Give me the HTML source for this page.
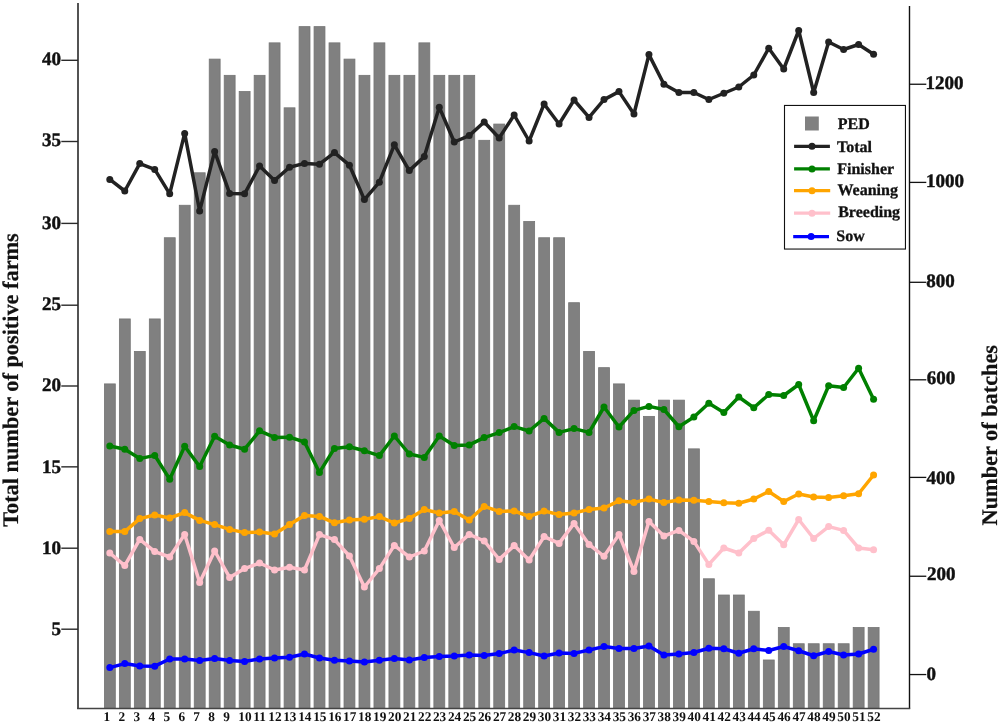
<!DOCTYPE html>
<html><head><meta charset="utf-8"><style>
html,body{margin:0;padding:0;background:#fff;}
svg{display:block;will-change:transform;}
text{font-family:"Liberation Serif",serif;font-weight:bold;fill:#111;stroke:#111;stroke-width:0.45px;text-rendering:geometricPrecision;}
.tk{font-size:19px;}
.xl{font-size:13.3px;stroke-width:0;}
.tt{font-size:22.3px;stroke-width:0.2px;}
.lg{font-size:16px;stroke-width:0.3px;}
</style></head><body>
<svg width="1000" height="724" viewBox="0 0 1000 724">
<rect width="1000" height="724" fill="#fff"/>
<g fill="#808080" stroke="#747474" stroke-width="0.8"><rect x="104.40" y="383.90" width="10.90" height="324.40"/><rect x="119.38" y="318.94" width="10.90" height="389.36"/><rect x="134.35" y="351.42" width="10.90" height="356.88"/><rect x="149.33" y="318.94" width="10.90" height="389.36"/><rect x="164.30" y="237.74" width="10.90" height="470.56"/><rect x="179.28" y="205.26" width="10.90" height="503.04"/><rect x="194.26" y="172.78" width="10.90" height="535.52"/><rect x="209.23" y="59.10" width="10.90" height="649.20"/><rect x="224.21" y="75.34" width="10.90" height="632.96"/><rect x="239.18" y="91.58" width="10.90" height="616.72"/><rect x="254.16" y="75.34" width="10.90" height="632.96"/><rect x="269.14" y="42.86" width="10.90" height="665.44"/><rect x="284.11" y="107.82" width="10.90" height="600.48"/><rect x="299.09" y="26.62" width="10.90" height="681.68"/><rect x="314.06" y="26.62" width="10.90" height="681.68"/><rect x="329.04" y="42.86" width="10.90" height="665.44"/><rect x="344.02" y="59.10" width="10.90" height="649.20"/><rect x="358.99" y="75.34" width="10.90" height="632.96"/><rect x="373.97" y="42.86" width="10.90" height="665.44"/><rect x="388.94" y="75.34" width="10.90" height="632.96"/><rect x="403.92" y="75.34" width="10.90" height="632.96"/><rect x="418.90" y="42.86" width="10.90" height="665.44"/><rect x="433.87" y="75.34" width="10.90" height="632.96"/><rect x="448.85" y="75.34" width="10.90" height="632.96"/><rect x="463.82" y="75.34" width="10.90" height="632.96"/><rect x="478.80" y="140.30" width="10.90" height="568.00"/><rect x="493.78" y="124.06" width="10.90" height="584.24"/><rect x="508.75" y="205.26" width="10.90" height="503.04"/><rect x="523.73" y="221.50" width="10.90" height="486.80"/><rect x="538.70" y="237.74" width="10.90" height="470.56"/><rect x="553.68" y="237.74" width="10.90" height="470.56"/><rect x="568.66" y="302.70" width="10.90" height="405.60"/><rect x="583.63" y="351.42" width="10.90" height="356.88"/><rect x="598.61" y="367.66" width="10.90" height="340.64"/><rect x="613.58" y="383.90" width="10.90" height="324.40"/><rect x="628.56" y="400.14" width="10.90" height="308.16"/><rect x="643.54" y="416.38" width="10.90" height="291.92"/><rect x="658.51" y="400.14" width="10.90" height="308.16"/><rect x="673.49" y="400.14" width="10.90" height="308.16"/><rect x="688.46" y="448.86" width="10.90" height="259.44"/><rect x="703.44" y="578.78" width="10.90" height="129.52"/><rect x="718.42" y="595.02" width="10.90" height="113.28"/><rect x="733.39" y="595.02" width="10.90" height="113.28"/><rect x="748.37" y="611.26" width="10.90" height="97.04"/><rect x="763.34" y="659.98" width="10.90" height="48.32"/><rect x="778.32" y="627.50" width="10.90" height="80.80"/><rect x="793.30" y="643.74" width="10.90" height="64.56"/><rect x="808.27" y="643.74" width="10.90" height="64.56"/><rect x="823.25" y="643.74" width="10.90" height="64.56"/><rect x="838.22" y="643.74" width="10.90" height="64.56"/><rect x="853.20" y="627.50" width="10.90" height="80.80"/><rect x="868.18" y="627.50" width="10.90" height="80.80"/></g>
<polyline points="109.80,667.60 124.78,663.60 139.75,666.00 154.73,666.20 169.70,659.00 184.68,659.00 199.66,660.60 214.63,658.40 229.61,660.60 244.58,661.40 259.56,659.00 274.54,658.00 289.51,657.20 304.49,654.00 319.46,658.00 334.44,660.20 349.42,661.00 364.39,662.00 379.37,660.20 394.34,658.60 409.32,660.00 424.30,657.60 439.27,656.60 454.25,656.00 469.22,655.00 484.20,655.60 499.18,653.60 514.15,650.00 529.13,652.60 544.10,656.00 559.08,653.00 574.06,653.40 589.03,650.00 604.01,646.60 618.98,648.60 633.96,648.40 648.94,646.00 663.91,655.00 678.89,654.00 693.86,652.50 708.84,648.25 723.82,648.75 738.79,653.25 753.77,648.75 768.74,650.50 783.72,646.50 798.70,650.75 813.67,655.75 828.65,651.50 843.62,655.00 858.60,654.00 873.58,649.25" fill="none" stroke="#0000ff" stroke-width="3.5" stroke-linejoin="round" stroke-linecap="round"/><g fill="#0000ff"><circle cx="109.80" cy="667.60" r="3.5"/><circle cx="124.78" cy="663.60" r="3.5"/><circle cx="139.75" cy="666.00" r="3.5"/><circle cx="154.73" cy="666.20" r="3.5"/><circle cx="169.70" cy="659.00" r="3.5"/><circle cx="184.68" cy="659.00" r="3.5"/><circle cx="199.66" cy="660.60" r="3.5"/><circle cx="214.63" cy="658.40" r="3.5"/><circle cx="229.61" cy="660.60" r="3.5"/><circle cx="244.58" cy="661.40" r="3.5"/><circle cx="259.56" cy="659.00" r="3.5"/><circle cx="274.54" cy="658.00" r="3.5"/><circle cx="289.51" cy="657.20" r="3.5"/><circle cx="304.49" cy="654.00" r="3.5"/><circle cx="319.46" cy="658.00" r="3.5"/><circle cx="334.44" cy="660.20" r="3.5"/><circle cx="349.42" cy="661.00" r="3.5"/><circle cx="364.39" cy="662.00" r="3.5"/><circle cx="379.37" cy="660.20" r="3.5"/><circle cx="394.34" cy="658.60" r="3.5"/><circle cx="409.32" cy="660.00" r="3.5"/><circle cx="424.30" cy="657.60" r="3.5"/><circle cx="439.27" cy="656.60" r="3.5"/><circle cx="454.25" cy="656.00" r="3.5"/><circle cx="469.22" cy="655.00" r="3.5"/><circle cx="484.20" cy="655.60" r="3.5"/><circle cx="499.18" cy="653.60" r="3.5"/><circle cx="514.15" cy="650.00" r="3.5"/><circle cx="529.13" cy="652.60" r="3.5"/><circle cx="544.10" cy="656.00" r="3.5"/><circle cx="559.08" cy="653.00" r="3.5"/><circle cx="574.06" cy="653.40" r="3.5"/><circle cx="589.03" cy="650.00" r="3.5"/><circle cx="604.01" cy="646.60" r="3.5"/><circle cx="618.98" cy="648.60" r="3.5"/><circle cx="633.96" cy="648.40" r="3.5"/><circle cx="648.94" cy="646.00" r="3.5"/><circle cx="663.91" cy="655.00" r="3.5"/><circle cx="678.89" cy="654.00" r="3.5"/><circle cx="693.86" cy="652.50" r="3.5"/><circle cx="708.84" cy="648.25" r="3.5"/><circle cx="723.82" cy="648.75" r="3.5"/><circle cx="738.79" cy="653.25" r="3.5"/><circle cx="753.77" cy="648.75" r="3.5"/><circle cx="768.74" cy="650.50" r="3.5"/><circle cx="783.72" cy="646.50" r="3.5"/><circle cx="798.70" cy="650.75" r="3.5"/><circle cx="813.67" cy="655.75" r="3.5"/><circle cx="828.65" cy="651.50" r="3.5"/><circle cx="843.62" cy="655.00" r="3.5"/><circle cx="858.60" cy="654.00" r="3.5"/><circle cx="873.58" cy="649.25" r="3.5"/></g><polyline points="109.80,553.00 124.78,565.60 139.75,539.40 154.73,551.60 169.70,557.00 184.68,534.40 199.66,582.40 214.63,551.00 229.61,577.40 244.58,568.60 259.56,563.00 274.54,570.00 289.51,567.30 304.49,570.00 319.46,534.60 334.44,539.60 349.42,556.00 364.39,587.00 379.37,568.60 394.34,545.40 409.32,557.00 424.30,551.00 439.27,520.50 454.25,547.50 469.22,534.40 484.20,541.00 499.18,559.40 514.15,545.60 529.13,560.00 544.10,536.60 559.08,543.40 574.06,523.40 589.03,544.40 604.01,556.30 618.98,534.50 633.96,571.40 648.94,521.40 663.91,536.00 678.89,530.40 693.86,541.40 708.84,564.40 723.82,548.00 738.79,553.00 753.77,538.40 768.74,530.20 783.72,544.80 798.70,519.50 813.67,538.50 828.65,526.60 843.62,530.40 858.60,548.00 873.58,549.70" fill="none" stroke="#ffc0cb" stroke-width="3.5" stroke-linejoin="round" stroke-linecap="round"/><g fill="#ffc0cb"><circle cx="109.80" cy="553.00" r="3.5"/><circle cx="124.78" cy="565.60" r="3.5"/><circle cx="139.75" cy="539.40" r="3.5"/><circle cx="154.73" cy="551.60" r="3.5"/><circle cx="169.70" cy="557.00" r="3.5"/><circle cx="184.68" cy="534.40" r="3.5"/><circle cx="199.66" cy="582.40" r="3.5"/><circle cx="214.63" cy="551.00" r="3.5"/><circle cx="229.61" cy="577.40" r="3.5"/><circle cx="244.58" cy="568.60" r="3.5"/><circle cx="259.56" cy="563.00" r="3.5"/><circle cx="274.54" cy="570.00" r="3.5"/><circle cx="289.51" cy="567.30" r="3.5"/><circle cx="304.49" cy="570.00" r="3.5"/><circle cx="319.46" cy="534.60" r="3.5"/><circle cx="334.44" cy="539.60" r="3.5"/><circle cx="349.42" cy="556.00" r="3.5"/><circle cx="364.39" cy="587.00" r="3.5"/><circle cx="379.37" cy="568.60" r="3.5"/><circle cx="394.34" cy="545.40" r="3.5"/><circle cx="409.32" cy="557.00" r="3.5"/><circle cx="424.30" cy="551.00" r="3.5"/><circle cx="439.27" cy="520.50" r="3.5"/><circle cx="454.25" cy="547.50" r="3.5"/><circle cx="469.22" cy="534.40" r="3.5"/><circle cx="484.20" cy="541.00" r="3.5"/><circle cx="499.18" cy="559.40" r="3.5"/><circle cx="514.15" cy="545.60" r="3.5"/><circle cx="529.13" cy="560.00" r="3.5"/><circle cx="544.10" cy="536.60" r="3.5"/><circle cx="559.08" cy="543.40" r="3.5"/><circle cx="574.06" cy="523.40" r="3.5"/><circle cx="589.03" cy="544.40" r="3.5"/><circle cx="604.01" cy="556.30" r="3.5"/><circle cx="618.98" cy="534.50" r="3.5"/><circle cx="633.96" cy="571.40" r="3.5"/><circle cx="648.94" cy="521.40" r="3.5"/><circle cx="663.91" cy="536.00" r="3.5"/><circle cx="678.89" cy="530.40" r="3.5"/><circle cx="693.86" cy="541.40" r="3.5"/><circle cx="708.84" cy="564.40" r="3.5"/><circle cx="723.82" cy="548.00" r="3.5"/><circle cx="738.79" cy="553.00" r="3.5"/><circle cx="753.77" cy="538.40" r="3.5"/><circle cx="768.74" cy="530.20" r="3.5"/><circle cx="783.72" cy="544.80" r="3.5"/><circle cx="798.70" cy="519.50" r="3.5"/><circle cx="813.67" cy="538.50" r="3.5"/><circle cx="828.65" cy="526.60" r="3.5"/><circle cx="843.62" cy="530.40" r="3.5"/><circle cx="858.60" cy="548.00" r="3.5"/><circle cx="873.58" cy="549.70" r="3.5"/></g><polyline points="109.80,531.60 124.78,531.60 139.75,518.60 154.73,515.00 169.70,518.00 184.68,512.60 199.66,520.40 214.63,524.60 229.61,529.40 244.58,532.60 259.56,532.00 274.54,534.00 289.51,524.60 304.49,515.60 319.46,516.40 334.44,522.80 349.42,520.00 364.39,519.20 379.37,516.60 394.34,523.00 409.32,518.60 424.30,509.60 439.27,513.00 454.25,511.40 469.22,520.00 484.20,506.40 499.18,511.40 514.15,511.00 529.13,516.40 544.10,511.00 559.08,514.60 574.06,513.00 589.03,509.40 604.01,508.00 618.98,500.80 633.96,502.40 648.94,499.10 663.91,502.50 678.89,500.00 693.86,500.25 708.84,501.50 723.82,502.75 738.79,503.25 753.77,499.00 768.74,491.50 783.72,501.50 798.70,494.00 813.67,497.00 828.65,497.50 843.62,495.75 858.60,493.75 873.58,475.00" fill="none" stroke="#ffa500" stroke-width="3.5" stroke-linejoin="round" stroke-linecap="round"/><g fill="#ffa500"><circle cx="109.80" cy="531.60" r="3.5"/><circle cx="124.78" cy="531.60" r="3.5"/><circle cx="139.75" cy="518.60" r="3.5"/><circle cx="154.73" cy="515.00" r="3.5"/><circle cx="169.70" cy="518.00" r="3.5"/><circle cx="184.68" cy="512.60" r="3.5"/><circle cx="199.66" cy="520.40" r="3.5"/><circle cx="214.63" cy="524.60" r="3.5"/><circle cx="229.61" cy="529.40" r="3.5"/><circle cx="244.58" cy="532.60" r="3.5"/><circle cx="259.56" cy="532.00" r="3.5"/><circle cx="274.54" cy="534.00" r="3.5"/><circle cx="289.51" cy="524.60" r="3.5"/><circle cx="304.49" cy="515.60" r="3.5"/><circle cx="319.46" cy="516.40" r="3.5"/><circle cx="334.44" cy="522.80" r="3.5"/><circle cx="349.42" cy="520.00" r="3.5"/><circle cx="364.39" cy="519.20" r="3.5"/><circle cx="379.37" cy="516.60" r="3.5"/><circle cx="394.34" cy="523.00" r="3.5"/><circle cx="409.32" cy="518.60" r="3.5"/><circle cx="424.30" cy="509.60" r="3.5"/><circle cx="439.27" cy="513.00" r="3.5"/><circle cx="454.25" cy="511.40" r="3.5"/><circle cx="469.22" cy="520.00" r="3.5"/><circle cx="484.20" cy="506.40" r="3.5"/><circle cx="499.18" cy="511.40" r="3.5"/><circle cx="514.15" cy="511.00" r="3.5"/><circle cx="529.13" cy="516.40" r="3.5"/><circle cx="544.10" cy="511.00" r="3.5"/><circle cx="559.08" cy="514.60" r="3.5"/><circle cx="574.06" cy="513.00" r="3.5"/><circle cx="589.03" cy="509.40" r="3.5"/><circle cx="604.01" cy="508.00" r="3.5"/><circle cx="618.98" cy="500.80" r="3.5"/><circle cx="633.96" cy="502.40" r="3.5"/><circle cx="648.94" cy="499.10" r="3.5"/><circle cx="663.91" cy="502.50" r="3.5"/><circle cx="678.89" cy="500.00" r="3.5"/><circle cx="693.86" cy="500.25" r="3.5"/><circle cx="708.84" cy="501.50" r="3.5"/><circle cx="723.82" cy="502.75" r="3.5"/><circle cx="738.79" cy="503.25" r="3.5"/><circle cx="753.77" cy="499.00" r="3.5"/><circle cx="768.74" cy="491.50" r="3.5"/><circle cx="783.72" cy="501.50" r="3.5"/><circle cx="798.70" cy="494.00" r="3.5"/><circle cx="813.67" cy="497.00" r="3.5"/><circle cx="828.65" cy="497.50" r="3.5"/><circle cx="843.62" cy="495.75" r="3.5"/><circle cx="858.60" cy="493.75" r="3.5"/><circle cx="873.58" cy="475.00" r="3.5"/></g><polyline points="109.80,446.00 124.78,449.20 139.75,458.60 154.73,455.40 169.70,479.20 184.68,446.20 199.66,466.60 214.63,436.20 229.61,445.00 244.58,449.20 259.56,430.80 274.54,437.40 289.51,437.20 304.49,442.00 319.46,472.40 334.44,448.40 349.42,446.80 364.39,450.80 379.37,455.60 394.34,436.00 409.32,454.00 424.30,457.40 439.27,436.00 454.25,445.40 469.22,444.90 484.20,437.60 499.18,432.60 514.15,426.60 529.13,431.00 544.10,418.40 559.08,432.40 574.06,428.60 589.03,432.40 604.01,407.00 618.98,427.00 633.96,410.40 648.94,406.40 663.91,409.50 678.89,426.75 693.86,417.00 708.84,403.25 723.82,412.50 738.79,397.00 753.77,407.75 768.74,394.50 783.72,395.50 798.70,384.50 813.67,420.75 828.65,385.75 843.62,387.50 858.60,368.25 873.58,399.25" fill="none" stroke="#008000" stroke-width="3.5" stroke-linejoin="round" stroke-linecap="round"/><g fill="#008000"><circle cx="109.80" cy="446.00" r="3.5"/><circle cx="124.78" cy="449.20" r="3.5"/><circle cx="139.75" cy="458.60" r="3.5"/><circle cx="154.73" cy="455.40" r="3.5"/><circle cx="169.70" cy="479.20" r="3.5"/><circle cx="184.68" cy="446.20" r="3.5"/><circle cx="199.66" cy="466.60" r="3.5"/><circle cx="214.63" cy="436.20" r="3.5"/><circle cx="229.61" cy="445.00" r="3.5"/><circle cx="244.58" cy="449.20" r="3.5"/><circle cx="259.56" cy="430.80" r="3.5"/><circle cx="274.54" cy="437.40" r="3.5"/><circle cx="289.51" cy="437.20" r="3.5"/><circle cx="304.49" cy="442.00" r="3.5"/><circle cx="319.46" cy="472.40" r="3.5"/><circle cx="334.44" cy="448.40" r="3.5"/><circle cx="349.42" cy="446.80" r="3.5"/><circle cx="364.39" cy="450.80" r="3.5"/><circle cx="379.37" cy="455.60" r="3.5"/><circle cx="394.34" cy="436.00" r="3.5"/><circle cx="409.32" cy="454.00" r="3.5"/><circle cx="424.30" cy="457.40" r="3.5"/><circle cx="439.27" cy="436.00" r="3.5"/><circle cx="454.25" cy="445.40" r="3.5"/><circle cx="469.22" cy="444.90" r="3.5"/><circle cx="484.20" cy="437.60" r="3.5"/><circle cx="499.18" cy="432.60" r="3.5"/><circle cx="514.15" cy="426.60" r="3.5"/><circle cx="529.13" cy="431.00" r="3.5"/><circle cx="544.10" cy="418.40" r="3.5"/><circle cx="559.08" cy="432.40" r="3.5"/><circle cx="574.06" cy="428.60" r="3.5"/><circle cx="589.03" cy="432.40" r="3.5"/><circle cx="604.01" cy="407.00" r="3.5"/><circle cx="618.98" cy="427.00" r="3.5"/><circle cx="633.96" cy="410.40" r="3.5"/><circle cx="648.94" cy="406.40" r="3.5"/><circle cx="663.91" cy="409.50" r="3.5"/><circle cx="678.89" cy="426.75" r="3.5"/><circle cx="693.86" cy="417.00" r="3.5"/><circle cx="708.84" cy="403.25" r="3.5"/><circle cx="723.82" cy="412.50" r="3.5"/><circle cx="738.79" cy="397.00" r="3.5"/><circle cx="753.77" cy="407.75" r="3.5"/><circle cx="768.74" cy="394.50" r="3.5"/><circle cx="783.72" cy="395.50" r="3.5"/><circle cx="798.70" cy="384.50" r="3.5"/><circle cx="813.67" cy="420.75" r="3.5"/><circle cx="828.65" cy="385.75" r="3.5"/><circle cx="843.62" cy="387.50" r="3.5"/><circle cx="858.60" cy="368.25" r="3.5"/><circle cx="873.58" cy="399.25" r="3.5"/></g><polyline points="109.80,179.40 124.78,191.00 139.75,163.60 154.73,169.40 169.70,193.80 184.68,133.40 199.66,211.00 214.63,151.40 229.61,193.40 244.58,193.80 259.56,166.00 274.54,180.40 289.51,167.20 304.49,163.40 319.46,164.20 334.44,152.60 349.42,165.20 364.39,199.60 379.37,182.20 394.34,144.80 409.32,170.60 424.30,156.60 439.27,107.20 454.25,142.00 469.22,135.60 484.20,122.00 499.18,138.00 514.15,115.00 529.13,141.00 544.10,104.00 559.08,124.00 574.06,100.00 589.03,117.40 604.01,99.60 618.98,91.60 633.96,114.00 648.94,54.60 663.91,84.25 678.89,92.50 693.86,92.50 708.84,99.50 723.82,93.25 738.79,87.00 753.77,75.00 768.74,48.25 783.72,69.00 798.70,30.50 813.67,92.50 828.65,42.00 843.62,49.50 858.60,44.50 873.58,54.25" fill="none" stroke="#222222" stroke-width="3.5" stroke-linejoin="round" stroke-linecap="round"/><g fill="#222222"><circle cx="109.80" cy="179.40" r="3.5"/><circle cx="124.78" cy="191.00" r="3.5"/><circle cx="139.75" cy="163.60" r="3.5"/><circle cx="154.73" cy="169.40" r="3.5"/><circle cx="169.70" cy="193.80" r="3.5"/><circle cx="184.68" cy="133.40" r="3.5"/><circle cx="199.66" cy="211.00" r="3.5"/><circle cx="214.63" cy="151.40" r="3.5"/><circle cx="229.61" cy="193.40" r="3.5"/><circle cx="244.58" cy="193.80" r="3.5"/><circle cx="259.56" cy="166.00" r="3.5"/><circle cx="274.54" cy="180.40" r="3.5"/><circle cx="289.51" cy="167.20" r="3.5"/><circle cx="304.49" cy="163.40" r="3.5"/><circle cx="319.46" cy="164.20" r="3.5"/><circle cx="334.44" cy="152.60" r="3.5"/><circle cx="349.42" cy="165.20" r="3.5"/><circle cx="364.39" cy="199.60" r="3.5"/><circle cx="379.37" cy="182.20" r="3.5"/><circle cx="394.34" cy="144.80" r="3.5"/><circle cx="409.32" cy="170.60" r="3.5"/><circle cx="424.30" cy="156.60" r="3.5"/><circle cx="439.27" cy="107.20" r="3.5"/><circle cx="454.25" cy="142.00" r="3.5"/><circle cx="469.22" cy="135.60" r="3.5"/><circle cx="484.20" cy="122.00" r="3.5"/><circle cx="499.18" cy="138.00" r="3.5"/><circle cx="514.15" cy="115.00" r="3.5"/><circle cx="529.13" cy="141.00" r="3.5"/><circle cx="544.10" cy="104.00" r="3.5"/><circle cx="559.08" cy="124.00" r="3.5"/><circle cx="574.06" cy="100.00" r="3.5"/><circle cx="589.03" cy="117.40" r="3.5"/><circle cx="604.01" cy="99.60" r="3.5"/><circle cx="618.98" cy="91.60" r="3.5"/><circle cx="633.96" cy="114.00" r="3.5"/><circle cx="648.94" cy="54.60" r="3.5"/><circle cx="663.91" cy="84.25" r="3.5"/><circle cx="678.89" cy="92.50" r="3.5"/><circle cx="693.86" cy="92.50" r="3.5"/><circle cx="708.84" cy="99.50" r="3.5"/><circle cx="723.82" cy="93.25" r="3.5"/><circle cx="738.79" cy="87.00" r="3.5"/><circle cx="753.77" cy="75.00" r="3.5"/><circle cx="768.74" cy="48.25" r="3.5"/><circle cx="783.72" cy="69.00" r="3.5"/><circle cx="798.70" cy="30.50" r="3.5"/><circle cx="813.67" cy="92.50" r="3.5"/><circle cx="828.65" cy="42.00" r="3.5"/><circle cx="843.62" cy="49.50" r="3.5"/><circle cx="858.60" cy="44.50" r="3.5"/><circle cx="873.58" cy="54.25" r="3.5"/></g>
<line x1="78" y1="3" x2="78" y2="709.1" stroke="#404040" stroke-width="1.8"/><line x1="909.5" y1="6" x2="909.5" y2="708.8" stroke="#111" stroke-width="1.4"/><line x1="77.1" y1="708.5" x2="910.2" y2="708.5" stroke="#444" stroke-width="1.3"/><line x1="61.3" y1="60.3" x2="78" y2="60.3" stroke="#2a2a2a" stroke-width="1.4"/><text x="61" y="65.20" text-anchor="end" class="tk">40</text><line x1="61.3" y1="141.5" x2="78" y2="141.5" stroke="#2a2a2a" stroke-width="1.4"/><text x="61" y="145.60" text-anchor="end" class="tk">35</text><line x1="61.3" y1="223.4" x2="78" y2="223.4" stroke="#2a2a2a" stroke-width="1.4"/><text x="61" y="228.50" text-anchor="end" class="tk">30</text><line x1="61.3" y1="305.2" x2="78" y2="305.2" stroke="#2a2a2a" stroke-width="1.4"/><text x="61" y="310.00" text-anchor="end" class="tk">25</text><line x1="61.3" y1="386.0" x2="78" y2="386.0" stroke="#2a2a2a" stroke-width="1.4"/><text x="61" y="390.70" text-anchor="end" class="tk">20</text><line x1="61.3" y1="466.85" x2="78" y2="466.85" stroke="#2a2a2a" stroke-width="1.4"/><text x="61" y="473.00" text-anchor="end" class="tk">15</text><line x1="61.3" y1="548.2" x2="78" y2="548.2" stroke="#2a2a2a" stroke-width="1.4"/><text x="61" y="553.60" text-anchor="end" class="tk">10</text><line x1="61.3" y1="629.2" x2="78" y2="629.2" stroke="#2a2a2a" stroke-width="1.4"/><text x="61" y="634.70" text-anchor="end" class="tk">5</text><line x1="909.5" y1="84.25" x2="926.3" y2="84.25" stroke="#111" stroke-width="1.3"/><text x="925.6" y="88.85" class="tk">1200</text><line x1="909.5" y1="182.4" x2="926.3" y2="182.4" stroke="#111" stroke-width="1.3"/><text x="925.9" y="187.18" class="tk">1000</text><line x1="909.5" y1="282.3" x2="926.3" y2="282.3" stroke="#111" stroke-width="1.3"/><text x="926.25" y="287.10" class="tk">800</text><line x1="909.5" y1="379.8" x2="926.3" y2="379.8" stroke="#111" stroke-width="1.3"/><text x="926.85" y="383.90" class="tk">600</text><line x1="909.5" y1="477.4" x2="926.3" y2="477.4" stroke="#111" stroke-width="1.3"/><text x="926.5" y="483.65" class="tk">400</text><line x1="909.5" y1="576.25" x2="926.3" y2="576.25" stroke="#111" stroke-width="1.3"/><text x="926.9" y="580.12" class="tk">200</text><line x1="909.5" y1="674.55" x2="926.3" y2="674.55" stroke="#111" stroke-width="1.3"/><text x="926.4" y="680.02" class="tk">0</text><text x="103.50" y="720.5" class="xl">1</text><text x="118.48" y="720.5" class="xl">2</text><text x="133.45" y="720.5" class="xl">3</text><text x="148.43" y="720.5" class="xl">4</text><text x="163.40" y="720.5" class="xl">5</text><text x="178.38" y="720.5" class="xl">6</text><text x="193.36" y="720.5" class="xl">7</text><text x="208.33" y="720.5" class="xl">8</text><text x="223.31" y="720.5" class="xl">9</text><text x="238.28" y="720.5" class="xl">10</text><text x="253.26" y="720.5" class="xl">11</text><text x="268.24" y="720.5" class="xl">12</text><text x="283.21" y="720.5" class="xl">13</text><text x="298.19" y="720.5" class="xl">14</text><text x="313.16" y="720.5" class="xl">15</text><text x="328.14" y="720.5" class="xl">16</text><text x="343.12" y="720.5" class="xl">17</text><text x="358.09" y="720.5" class="xl">18</text><text x="373.07" y="720.5" class="xl">19</text><text x="388.04" y="720.5" class="xl">20</text><text x="403.02" y="720.5" class="xl">21</text><text x="418.00" y="720.5" class="xl">22</text><text x="432.97" y="720.5" class="xl">23</text><text x="447.95" y="720.5" class="xl">24</text><text x="462.92" y="720.5" class="xl">25</text><text x="477.90" y="720.5" class="xl">26</text><text x="492.88" y="720.5" class="xl">27</text><text x="507.85" y="720.5" class="xl">28</text><text x="522.83" y="720.5" class="xl">29</text><text x="537.80" y="720.5" class="xl">30</text><text x="552.78" y="720.5" class="xl">31</text><text x="567.76" y="720.5" class="xl">32</text><text x="582.73" y="720.5" class="xl">33</text><text x="597.71" y="720.5" class="xl">34</text><text x="612.68" y="720.5" class="xl">35</text><text x="627.66" y="720.5" class="xl">36</text><text x="642.64" y="720.5" class="xl">37</text><text x="657.61" y="720.5" class="xl">38</text><text x="672.59" y="720.5" class="xl">39</text><text x="687.56" y="720.5" class="xl">40</text><text x="702.54" y="720.5" class="xl">41</text><text x="717.52" y="720.5" class="xl">42</text><text x="732.49" y="720.5" class="xl">43</text><text x="747.47" y="720.5" class="xl">44</text><text x="762.44" y="720.5" class="xl">45</text><text x="777.42" y="720.5" class="xl">46</text><text x="792.40" y="720.5" class="xl">47</text><text x="807.37" y="720.5" class="xl">48</text><text x="822.35" y="720.5" class="xl">49</text><text x="837.32" y="720.5" class="xl">50</text><text x="852.30" y="720.5" class="xl">51</text><text x="867.28" y="720.5" class="xl">52</text>
<rect x="784.5" y="105.45" width="120.95" height="143.6" fill="#fff" stroke="#111" stroke-width="1.1"/><rect x="805" y="116.5" width="13.8" height="14" fill="#808080"/><text x="837.8" y="129.3" class="lg">PED</text><line x1="794.1" y1="146.3" x2="829.9" y2="146.3" stroke="#222222" stroke-width="3.3"/><circle cx="812" cy="146.3" r="3.5" fill="#222222"/><text x="837.0" y="152.1" class="lg">Total</text><line x1="794.1" y1="168.9" x2="829.9" y2="168.9" stroke="#008000" stroke-width="3.3"/><circle cx="812" cy="168.9" r="3.5" fill="#008000"/><text x="837.2" y="173.8" class="lg">Finisher</text><line x1="794.0" y1="190.7" x2="830.2" y2="190.7" stroke="#ffa500" stroke-width="3.3"/><circle cx="812" cy="190.7" r="3.5" fill="#ffa500"/><text x="837.5" y="195.0" class="lg">Weaning</text><line x1="794.0" y1="213.2" x2="830.2" y2="213.2" stroke="#ffc0cb" stroke-width="3.3"/><circle cx="812" cy="213.2" r="3.5" fill="#ffc0cb"/><text x="838.2" y="216.75" class="lg">Breeding</text><line x1="793.2" y1="236.6" x2="829.0" y2="236.6" stroke="#0000ff" stroke-width="3.3"/><circle cx="811.1" cy="236.6" r="3.5" fill="#0000ff"/><text x="836.3" y="240.6" class="lg">Sow</text>
<text class="tt" transform="translate(18.4,380) rotate(-90)" text-anchor="middle">Total number of positive farms</text><text class="tt" transform="translate(997.1,435.2) rotate(-90)" text-anchor="middle">Number of batches</text>
</svg>
</body></html>
